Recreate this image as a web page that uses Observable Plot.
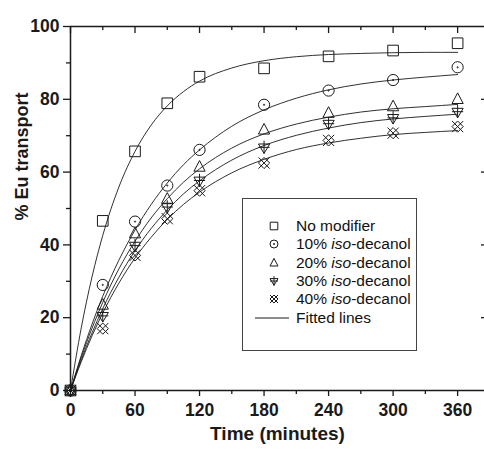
<!DOCTYPE html>
<html><head><meta charset="utf-8">
<script src="https://cdn.jsdelivr.net/npm/d3@7"></script>
<script src="https://cdn.jsdelivr.net/npm/@observablehq/plot@0.6"></script>
<style>
body{margin:0;background:#fff;}
#wrap{position:relative;width:484px;height:449px;font-family:"Liberation Sans",Arial,sans-serif;}
#legend{position:absolute;left:242px;top:198px;width:175px;height:153px;border:1px solid #444;box-sizing:border-box;background:#fff;}
.row{position:absolute;left:0;height:18px;line-height:18px;font-size:15.5px;color:#111;white-space:nowrap;}
.row svg{position:absolute;top:0;}
.row span{position:absolute;left:53px;top:0;}
</style></head><body><div id="wrap"></div>
<script>
// measured data (minutes, % Eu transport)
const times = [0, 30, 60, 90, 120, 180, 240, 300, 360];
const noModifier = [0, 46.6, 65.7, 78.9, 86.2, 88.5, 91.8, 93.4, 95.4];
const iso10 = [0, 29.0, 46.4, 56.3, 66.1, 78.5, 82.4, 85.3, 88.8];
const iso20 = [0, 23.5, 43.1, 52.6, 61.4, 71.6, 76.2, 78.0, 80.0];
const iso30 = [0, 20.5, 39.8, 50.4, 57.7, 66.8, 73.3, 74.9, 76.6];
const iso40 = [0, 17.0, 37.1, 47.2, 54.9, 62.5, 68.7, 70.7, 72.5];

// fitted lines
const fitTimes = [0, 10, 20, 30, 45, 60, 75, 90, 105, 120, 150, 180, 210, 240, 270, 300, 330, 360];
const fitNoModifier = [0, 17.2, 31.2, 42.6, 55.9, 65.7, 72.9, 78.2, 82.1, 85.0, 88.6, 90.6, 91.7, 92.3, 92.6, 92.8, 92.9, 92.9];
const fitIso10 = [0, 9.6, 18.2, 25.9, 35.8, 44.1, 51.1, 57.0, 62.0, 66.1, 72.6, 77.1, 80.3, 82.6, 84.2, 85.3, 86.1, 86.8];
const fitIso20 = [0, 9.1, 17.1, 24.2, 33.4, 41.0, 47.4, 52.7, 57.2, 60.9, 66.6, 70.5, 73.2, 75.1, 76.5, 77.4, 78.0, 78.6];
const fitIso30 = [0, 8.4, 15.8, 22.5, 31.1, 38.4, 44.5, 49.6, 54.0, 57.6, 63.3, 67.3, 70.1, 72.1, 73.6, 74.6, 75.3, 75.9];
const fitIso40 = [0, 7.9, 15.0, 21.3, 29.5, 36.4, 42.1, 47.0, 51.1, 54.5, 59.8, 63.5, 66.2, 68.0, 69.3, 70.3, 70.9, 71.4];

const seriesLabels = [["No modifier", "", ""], ["10% ", "iso", "-decanol"], ["20% ", "iso", "-decanol"], ["30% ", "iso", "-decanol"], ["40% ", "iso", "-decanol"]];
const fitLabel = "Fitted lines";

const xMajor = [0, 60, 120, 180, 240, 300, 360];
const xMinor = [30, 90, 150, 210, 270, 330];
const yMajor = [0, 20, 40, 60, 80, 100];
const yMinor = [10, 30, 50, 70, 90];

// custom symbols
const R = s => Math.sqrt(s / Math.PI);
const symSquare = {draw(c, s) { const r = R(s) * 0.95; c.rect(-r, -r, 2 * r, 2 * r); }};
const symCircleDot = {draw(c, s) { const r = R(s); c.moveTo(r, 0); c.arc(0, 0, r, 0, 2 * Math.PI); c.moveTo(0.6, 0); c.arc(0, 0, 0.6, 0, 2 * Math.PI); }};
const symTriUp = {draw(c, s) { const r = R(s); c.moveTo(0, -1.15 * r); c.lineTo(r, 0.75 * r); c.lineTo(-r, 0.75 * r); c.closePath(); }};
const symTriDownCross = {draw(c, s) { const r = R(s); c.moveTo(-r, -0.6 * r); c.lineTo(r, -0.6 * r); c.lineTo(0, 1.1 * r); c.closePath(); c.moveTo(-r, 0); c.lineTo(r, 0); c.moveTo(0, -1.2 * r); c.lineTo(0, 1.1 * r); }};
const symXDiamond = {draw(c, s) { const r = R(s); c.moveTo(-r, -r); c.lineTo(r, r); c.moveTo(-r, r); c.lineTo(r, -r); c.moveTo(0, -r); c.lineTo(r, 0); c.lineTo(0, r); c.lineTo(-r, 0); c.closePath(); }};

const symbols = [symSquare, symCircleDot, symTriUp, symTriDownCross, symXDiamond];
const seriesValues = [noModifier, iso10, iso20, iso30, iso40];
const fitValues = [fitNoModifier, fitIso10, fitIso20, fitIso30, fitIso40];

const ink = "#1a1a1a";
const fitRows = fitValues.flatMap((vals, i) => vals.map((v, j) => ({s: i, t: fitTimes[j], v})));
const frameW = 414, frameH = 364;

const marks = [
  Plot.line(fitRows, {x: "t", y: "v", z: "s", curve: "monotone-x", stroke: ink, strokeWidth: 0.9}),
  ...seriesValues.map((vals, i) => Plot.dot(vals.map((v, j) => ({t: times[j], v})), {x: "t", y: "v", r: 5.6, symbol: symbols[i], stroke: ink, strokeWidth: 1, fill: "none"})),
  Plot.ruleY([0], {stroke: ink, strokeWidth: 1.5}),
  Plot.ruleY([100], {stroke: ink, strokeWidth: 1.5}),
  Plot.ruleX([0], {stroke: ink, strokeWidth: 1.5}),
  Plot.axisX({ticks: xMajor, tickSize: 6, tickPadding: 7, fontSize: 17.5, fontWeight: "bold", strokeWidth: 1.3, label: null, color: ink}),
  Plot.axisX({ticks: xMinor, tickSize: 4, tickFormat: () => "", strokeWidth: 1.3, label: null, color: ink}),
  Plot.axisY({ticks: yMajor, tickSize: 7, tickPadding: 4, fontSize: 17.5, fontWeight: "bold", strokeWidth: 1.3, label: null, color: ink}),
  Plot.axisY({ticks: yMinor, tickSize: 4, tickFormat: () => "", strokeWidth: 1.3, label: null, color: ink}),
  Plot.tickX(xMajor, {x: d => d, insetBottom: frameH - 7, stroke: ink, strokeWidth: 1.3}),
  Plot.tickX(xMinor, {x: d => d, insetBottom: frameH - 4, stroke: ink, strokeWidth: 1.3}),
  Plot.tickY(yMajor.slice(1, -1), {y: d => d, insetLeft: frameW - 3, stroke: ink, strokeWidth: 1.3}),
  Plot.text(["Time (minutes)"], {frameAnchor: "bottom", dy: 49, fontSize: 19, fontWeight: "bold", fill: ink}),
  Plot.text(["% Eu transport"], {frameAnchor: "left", dx: -48, dy: 12, rotate: -90, fontSize: 18, fontWeight: "bold", fill: ink})
];

const chart = Plot.plot({
  width: 484, height: 449,
  marginLeft: 70, marginRight: 0, marginTop: 26, marginBottom: 59,
  style: {fontFamily: "'Liberation Sans', Arial, sans-serif", background: "#fff", color: ink},
  x: {domain: [0, 385]},
  y: {domain: [0, 100]},
  marks
});
const wrap = document.getElementById("wrap");
wrap.appendChild(chart);

// legend
const leg = document.createElement("div");
leg.id = "legend";
const rowCenters = [27, 45.3, 63.6, 81.9, 100.2, 118.5];
seriesLabels.forEach((lab, i) => {
  const row = document.createElement("div");
  row.className = "row";
  row.style.top = (rowCenters[i] - 9) + "px";
  row.style.width = "170px";
  const path = d3.symbol(symbols[i], Math.PI * 16)();
  row.innerHTML = `<svg width="40" height="18" style="left:11px"><path d="${path}" transform="translate(20,9)" fill="none" stroke="${ink}" stroke-width="1"/></svg>` +
    `<span>${lab[0]}${lab[1] ? "<i>" + lab[1] + "</i>" : ""}${lab[2]}</span>`;
  leg.appendChild(row);
});
const fr = document.createElement("div");
fr.className = "row";
fr.style.top = (rowCenters[5] - 9) + "px";
fr.style.width = "170px";
fr.innerHTML = `<svg width="40" height="18" style="left:12px"><line x1="0" x2="34" y1="9" y2="9" stroke="${ink}" stroke-width="1"/></svg><span>${fitLabel}</span>`;
leg.appendChild(fr);
wrap.appendChild(leg);
</script>
</body></html>
